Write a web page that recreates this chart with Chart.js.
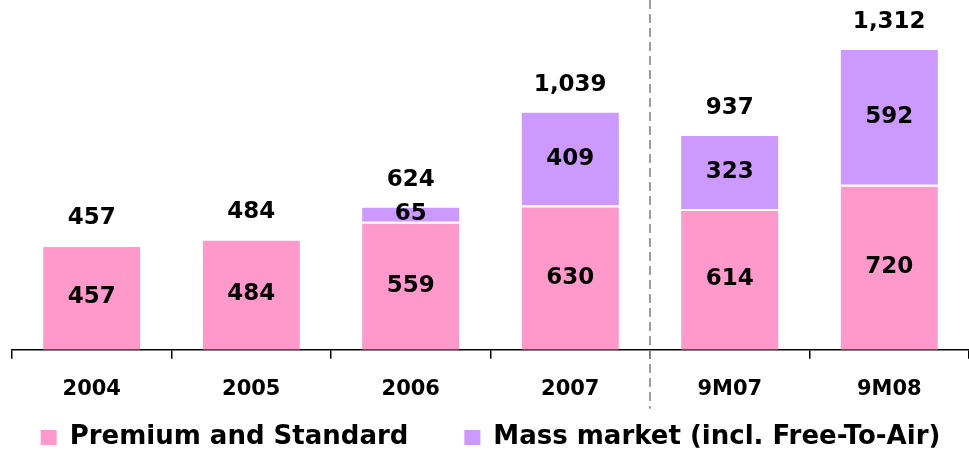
<!DOCTYPE html>
<html>
<head>
<meta charset="utf-8">
<script src="https://cdn.jsdelivr.net/npm/chart.js@4"></script>
<style>
  html, body { margin: 0; padding: 0; background: #fff; }
  #wrap { width: 969px; height: 456px; }
</style>
</head>
<body>
<div id="wrap"><canvas id="chart1"></canvas></div>
<script>
const categories = ['2004', '2005', '2006', '2007', '9M07', '9M08'];
const premiumValues = [457, 484, 559, 630, 614, 720];
const massValues = [0, 0, 65, 409, 323, 592];
const totalValues = [457, 484, 624, 1039, 937, 1312];

const pink = 'rgb(255, 153, 204)';
const purple = 'rgb(204, 153, 255)';
const labelFont = 'bold 23px "DejaVu Sans"';
const legendFont = 'bold 26px "DejaVu Sans"';

// value labels inside segments and totals above each bar
const valueLabels = {
    id: 'valueLabels',
    afterDatasetsDraw(chart) {
        const ctx = chart.ctx;
        ctx.save();
        ctx.font = labelFont;
        ctx.fillStyle = '#000';
        ctx.textAlign = 'center';
        ctx.textBaseline = 'middle';
        chart.data.datasets.forEach((ds, i) => {
            const meta = chart.getDatasetMeta(i);
            meta.data.forEach((bar, j) => {
                const v = ds.data[j];
                if (!v) return;
                const mid = (bar.y + bar.base) / 2;
                ctx.fillText(v.toLocaleString('en-US'), bar.x, mid);
            });
        });
        const top = chart.getDatasetMeta(1).data;
        const yScale = chart.scales.y;
        totalValues.forEach((t, j) => {
            const y = yScale.getPixelForValue(t);
            ctx.fillText(t.toLocaleString('en-US'), top[j].x, y - 27);
        });
        ctx.restore();
    }
};

// dashed separator between full years and nine-month figures
const separator = {
    id: 'separator',
    afterDraw(chart) {
        const x = chart.scales.x;
        const px = (x.getPixelForValue(3) + x.getPixelForValue(4)) / 2;
        const ctx = chart.ctx;
        ctx.save();
        ctx.strokeStyle = '#8c8c8c';
        ctx.lineWidth = 1.7;
        ctx.setLineDash([9, 5]);
        ctx.beginPath();
        ctx.moveTo(px, 0);
        ctx.lineTo(px, chart.chartArea.bottom + 59);
        ctx.stroke();
        ctx.restore();
    }
};

// legend row at the bottom, squares + bold text
const bottomLegend = {
    id: 'bottomLegend',
    afterDraw(chart) {
        const ctx = chart.ctx;
        const gap = 56, box = 16, textGap = 13;
        ctx.save();
        ctx.font = legendFont;
        ctx.textBaseline = 'middle';
        ctx.textAlign = 'left';
        const items = chart.data.datasets.map(ds => ({
            text: ds.label,
            color: ds.backgroundColor,
            w: box + textGap + ctx.measureText(ds.label).width
        }));
        const total = items.reduce((s, it) => s + it.w, 0) + gap * (items.length - 1);
        let x = (chart.chartArea.left + chart.chartArea.right) / 2 - total / 2;
        const y = chart.height - 19;
        items.forEach(it => {
            ctx.fillStyle = it.color;
            ctx.fillRect(x, y - 7, box, 15);
            ctx.fillStyle = '#000';
            ctx.fillText(it.text, x + box + textGap, y);
            x += it.w + gap;
        });
        ctx.restore();
    }
};

const data1 = {
    labels: categories,
    datasets: [
        {
            label: 'Premium and Standard',
            data: premiumValues,
            backgroundColor: pink,
            borderColor: '#fff',
            borderWidth: { top: 2, bottom: 0, left: 0, right: 0 },
            borderSkipped: false,
            categoryPercentage: 0.61,
            barPercentage: 1
        },
        {
            label: 'Mass market (incl. Free-To-Air)',
            data: massValues,
            backgroundColor: purple,
            borderColor: '#fff',
            borderWidth: { top: 1, bottom: 0, left: 0, right: 0 },
            borderSkipped: false,
            categoryPercentage: 0.61,
            barPercentage: 1
        }
    ]
};

const config1 = {
    type: 'bar',
    data: data1,
    options: {
        responsive: true,
        maintainAspectRatio: false,
        animation: false,
        layout: { padding: { left: 12, right: -6, top: 6, bottom: 36 } },
        scales: {
            x: {
                stacked: true,
                grid: {
                    offset: true,
                    drawOnChartArea: false,
                    drawTicks: true,
                    tickLength: 9,
                    color: '#000',
                    lineWidth: 1.5
                },
                border: { display: true, color: '#000', width: 1.5 },
                ticks: {
                    color: '#000',
                    font: { family: 'DejaVu Sans', size: 21, weight: 'bold' },
                    padding: 18
                }
            },
            y: {
                stacked: true,
                display: false,
                min: 0,
                max: 1500
            }
        },
        plugins: {
            legend: { display: false },
            tooltip: { enabled: false }
        }
    },
    plugins: [valueLabels, separator, bottomLegend]
};

const myChart1 = new Chart(document.getElementById('chart1').getContext('2d'), config1);
</script>
</body>
</html>
